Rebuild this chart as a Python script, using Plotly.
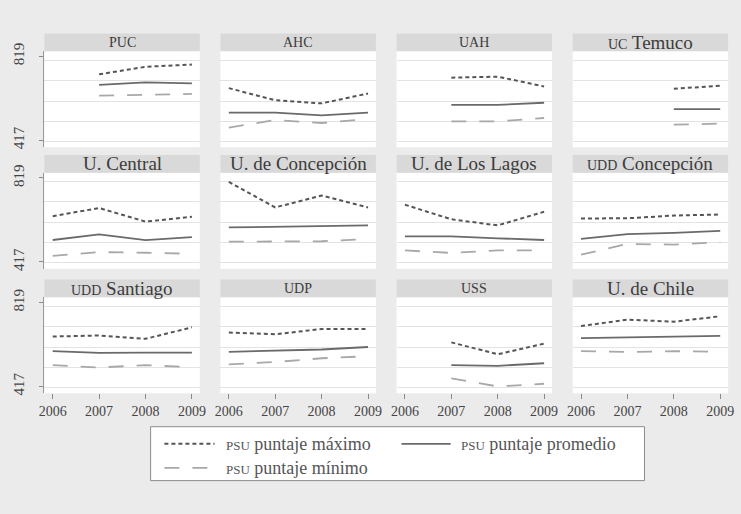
import plotly.graph_objects as go

# ---------------- data ----------------
years = [2006, 2007, 2008, 2009]
universities = ["PUC", "AHC", "UAH", "UC Temuco",
                "U. Central", "U. de Concepción", "U. de Los Lagos", "UDD Concepción",
                "UDD Santiago", "UDP", "USS", "U. de Chile"]

psu_max = [
    [None, 733, 769, 780],
    [667, 609, 594, 641],
    [None, 717, 722, 675],
    [None, None, 664, 678],
    [636, 675, 610, 633],
    [800, 678, 735, 678],
    [691, 621, 592, 657],
    [625, 626, 639, 644],
    [656, 661, 645, 700],
    [675, 667, 692, 692],
    [None, 628, 571, 622],
    [706, 737, 727, 753],
]
psu_avg = [
    [None, 683, 694, 690],
    [550, 550, 537, 550],
    [None, 587, 587, 597],
    [None, None, 566, 566],
    [522, 549, 521, 536],
    [582, 585, 588, 592],
    [539, 539, 530, 522],
    [527, 550, 556, 566],
    [586, 578, 579, 579],
    [583, 587, 594, 606],
    [None, 519, 516, 528],
    [648, 651, 655, 659],
]
psu_min = [
    [None, 631, 636, 639],
    [478, 514, 500, 519],
    [None, 508, 508, 524],
    [None, None, 492, 497],
    [446, 464, 461, 456],
    [514, 514, 516, 527],
    [472, 460, 472, 472],
    [452, 503, 500, 511],
    [519, 508, 519, 509],
    [523, 534, 552, 562],
    [None, 456, 417, 430],
    [586, 582, 586, 583],
]
y_tick_labels = [417, 819]
grid_values = [413, 508, 605, 705, 800]
series_names = ["PSU puntaje máximo", "PSU puntaje promedio", "PSU puntaje mínimo"]

# ---------------- styling / layout ----------------
W, H = 741, 514
SERIF = "Liberation Serif, DejaVu Serif, Times New Roman, serif"
BG = "#ebebeb"
col_left = [39, 218, 397, 576]
col_w = 158
row_top = [44, 168, 295]
row_h = 98
head_h = 18

styles = [
    dict(color="#555555", width=2.0, dash="4px,3px"),
    dict(color="#6a6a6a", width=1.8, dash="solid"),
    dict(color="#a8a8a8", width=1.8, dash="15px,13px"),
]


def sc(label):
    """small-caps emulation for acronyms"""
    out = []
    for w in label.split(" "):
        if w.isalpha() and w.isupper() and len(w) >= 2:
            out.append("<span style='font-size:14px'>%s</span>" % w)
        else:
            out.append(w)
    return " ".join(out)


fig = go.Figure()
layout = {}
shapes = []
annotations = []

for i, name in enumerate(universities):
    r, c = divmod(i, 4)
    ax = "" if i == 0 else str(i + 1)
    x0, x1 = col_left[c], col_left[c] + col_w
    y0, y1 = row_top[r], row_top[r] + row_h
    for k, data in enumerate([psu_max, psu_avg, psu_min]):
        fig.add_trace(go.Scatter(
            x=years, y=data[i], mode="lines", line=styles[k],
            xaxis="x" + ax, yaxis="y" + ax, showlegend=False,
            name=series_names[k], hoverinfo="x+y"))
    xa = dict(domain=[x0 / W, x1 / W], range=[2005.82, 2009.17], anchor="y" + ax,
              showgrid=False, zeroline=False, showline=False, fixedrange=True)
    if r == 2:
        xa.update(tickmode="array", tickvals=years, ticktext=[str(v) for v in years],
                  ticks="outside", ticklen=5, tickcolor="#8a8a8a", tickwidth=1,
                  tickfont=dict(family=SERIF, size=14, color="#444444"))
    else:
        xa.update(showticklabels=False, ticks="")
    ya = dict(domain=[1 - y1 / H, 1 - y0 / H], range=[384, 844], anchor="x" + ax,
              showgrid=False, zeroline=False, fixedrange=True,
              minor=dict(tickmode="array", tickvals=grid_values, showgrid=True,
                         gridcolor="#e3e3e3", gridwidth=1.3, ticks=""))
    if c == 0:
        ya.update(tickmode="array", tickvals=y_tick_labels,
                  ticktext=[str(v) for v in y_tick_labels],
                  ticks="outside", ticklen=4, tickcolor="#8a8a8a",
                  showline=True, linecolor="#9a9a9a", linewidth=1,
                  ticklabelstandoff=9,
                  tickangle=-90, tickfont=dict(family=SERIF, size=15, color="#444444"))
    else:
        ya.update(showticklabels=False, ticks="", tickvals=[])
    layout["xaxis" + ax] = xa
    layout["yaxis" + ax] = ya

    # header band
    shapes.append(dict(type="rect", xref="paper", yref="paper",
                       x0=x0 / W, x1=x1 / W, y0=1 - y0 / H, y1=1 - (y0 - head_h) / H,
                       fillcolor="#d9d9d9", line=dict(width=0), layer="below"))
    annotations.append(dict(xref="paper", yref="paper", x=(x0 + x1) / 2 / W,
                            y=1 - (y0 - head_h / 2) / H, text=sc(name), showarrow=False,
                            xanchor="center", yanchor="middle",
                            font=dict(family=SERIF, size=19, color="#3c3c3c")))

# ---------------- legend (drawn) ----------------
lx0, lx1, ly0, ly1 = 147, 649, 427, 482
shapes.append(dict(type="rect", xref="paper", yref="paper",
                   x0=lx0 / W, x1=lx1 / W, y0=1 - ly1 / H, y1=1 - ly0 / H,
                   fillcolor="white", line=dict(color="#8c8c8c", width=1)))
leg_items = [
    (0, 161, 212, 444.5, 222),
    (1, 402, 452, 444.5, 460),
    (2, 161, 210, 469, 222),
]
for k, sx0, sx1, sy, tx in leg_items:
    st = styles[k]
    shapes.append(dict(type="line", xref="paper", yref="paper",
                       x0=sx0 / W, x1=sx1 / W, y0=1 - sy / H, y1=1 - sy / H,
                       line=dict(color=st["color"], width=st["width"], dash=st["dash"])))
    label = series_names[k].replace("PSU", "<span style='font-size:13px'>PSU</span>")
    annotations.append(dict(xref="paper", yref="paper", x=tx / W, y=1 - sy / H,
                            text=label, showarrow=False, xanchor="left", yanchor="middle",
                            font=dict(family=SERIF, size=18, color="#555555")))

fig.update_layout(
    width=W, height=H, margin=dict(l=0, r=0, t=0, b=0),
    paper_bgcolor=BG, plot_bgcolor="white",
    showlegend=False, shapes=shapes, annotations=annotations,
    **layout)

fig.write_html(
    "out.html",
    config={"displayModeBar": False},
    post_script="document.body.style.margin='0';document.body.style.background='%s';" % BG,
)
